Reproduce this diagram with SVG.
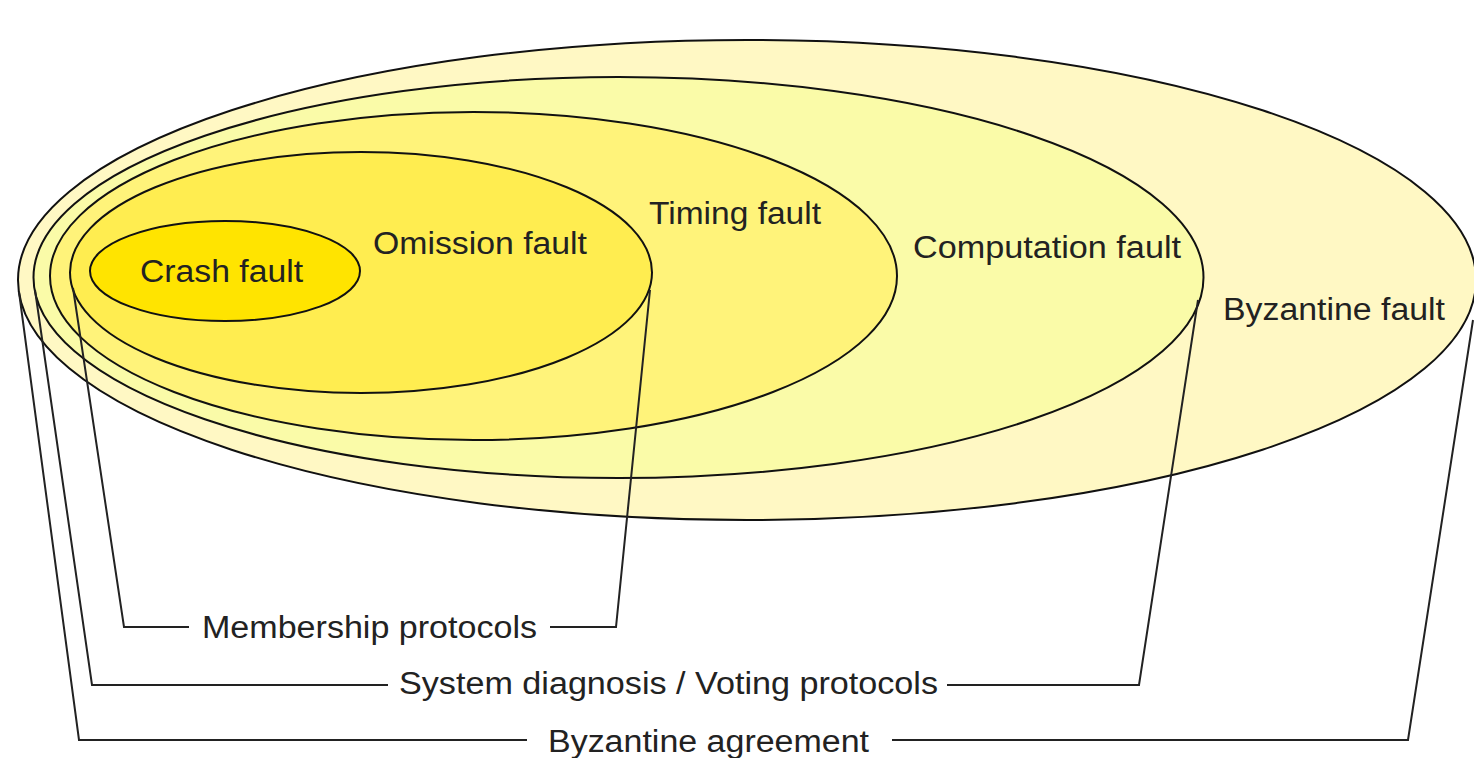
<svg xmlns="http://www.w3.org/2000/svg" width="1474" height="758" viewBox="0 0 1474 758">
  <style>
    .set { stroke: #111; stroke-width: 2; }
    .lead { fill: none; stroke: #222; stroke-width: 2; }
    .lbl { font-family: "Liberation Sans", Arial, sans-serif; font-size: 31px; fill: #222; }
  </style>
  <rect width="1474" height="758" fill="#ffffff"/>

  <!-- nested fault classes, outermost first -->
  <g id="byzantine-fault">
    <ellipse class="set" cx="747" cy="280" rx="729" ry="240" fill="#fff8c4"/>
    <text class="lbl" x="1223" y="320" textLength="222" lengthAdjust="spacingAndGlyphs">Byzantine fault</text>
  </g>
  <g id="computation-fault">
    <ellipse class="set" cx="618.5" cy="277.5" rx="585" ry="200.5" fill="#fafba8"/>
    <text class="lbl" x="913" y="258" textLength="268" lengthAdjust="spacingAndGlyphs">Computation fault</text>
  </g>
  <g id="timing-fault">
    <ellipse class="set" cx="473.5" cy="276" rx="423.5" ry="164" fill="#fff37a"/>
    <text class="lbl" x="649" y="224" textLength="172" lengthAdjust="spacingAndGlyphs">Timing fault</text>
  </g>
  <g id="omission-fault">
    <ellipse class="set" cx="361" cy="272.5" rx="291" ry="120.5" fill="#ffed50"/>
    <text class="lbl" x="373" y="254" textLength="214" lengthAdjust="spacingAndGlyphs">Omission fault</text>
  </g>
  <g id="crash-fault">
    <ellipse class="set" cx="225" cy="271" rx="135" ry="50" fill="#ffe400"/>
    <text class="lbl" x="140" y="282" textLength="163" lengthAdjust="spacingAndGlyphs">Crash fault</text>
  </g>

  <!-- protocol brackets spanning the fault classes they tolerate -->
  <g id="connectors">
    <polyline class="lead" points="73,288 124,627 189,627"/>
    <polyline class="lead" points="550,627 616,627 650,290"/>
    <polyline class="lead" points="35,290 92,685 388,685"/>
    <polyline class="lead" points="947,685 1139,685 1198,300"/>
    <polyline class="lead" points="19,292 79,740 527,740"/>
    <polyline class="lead" points="892,740 1408,740 1473,320"/>
  </g>

  <g id="membership-protocols">
    <text class="lbl" x="202" y="638" textLength="335" lengthAdjust="spacingAndGlyphs">Membership protocols</text>
  </g>
  <g id="system-diagnosis-voting">
    <text class="lbl" x="399" y="694" textLength="539" lengthAdjust="spacingAndGlyphs">System diagnosis / Voting protocols</text>
  </g>
  <g id="byzantine-agreement">
    <text class="lbl" x="548" y="752" textLength="321" lengthAdjust="spacingAndGlyphs">Byzantine agreement</text>
  </g>
</svg>
